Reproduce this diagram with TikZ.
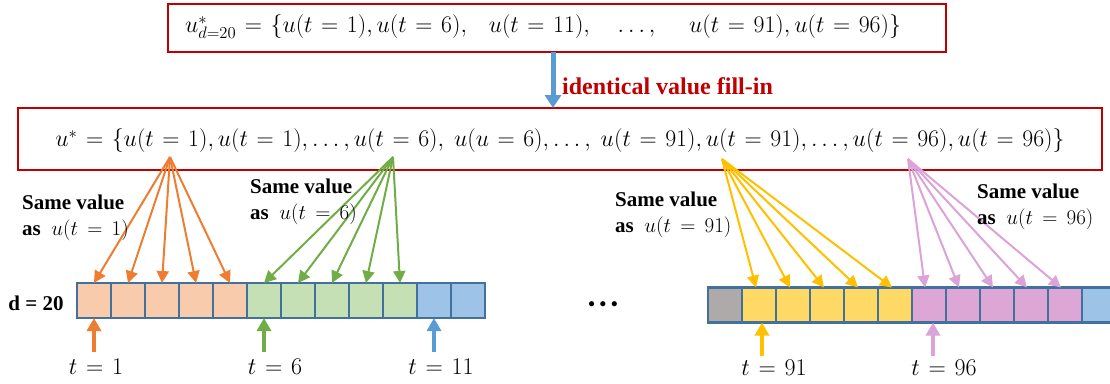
\RequirePackage{fix-cm}
\documentclass[tikz,border=0pt]{standalone}
\usepackage{fontspec}
\setmainfont{Liberation Serif}
\usetikzlibrary{arrows.meta}
\thickmuskip=8mu plus 2mu
\newmuskip\fmlskip
\fmlskip=6.5mu
\definecolor{boxred}{HTML}{C00000}
\definecolor{blueA}{HTML}{5B9BD5}
\definecolor{orangeA}{HTML}{ED7D31}
\definecolor{orangeF}{HTML}{F8CBAD}
\definecolor{greenA}{HTML}{70AD47}
\definecolor{greenF}{HTML}{C5E0B4}
\definecolor{blueF}{HTML}{9DC3E6}
\definecolor{cellB}{HTML}{41719C}
\definecolor{grayF}{HTML}{AEAAAA}
\definecolor{yellowA}{HTML}{FFC000}
\definecolor{yellowF}{HTML}{FFD966}
\definecolor{pinkA}{HTML}{DBA3D8}
\definecolor{pinkF}{HTML}{DDA7D5}
\begin{document}
\begin{tikzpicture}[x=1pt,y=-1pt,
  redbox/.style={draw=boxred,line width=2pt,inner sep=0pt,outer sep=0pt},
  cell/.style={draw=cellB,line width=2.2pt,minimum width=34pt,minimum height=35pt,inner sep=0pt,outer sep=0pt},
  fan/.style={line width=2pt,-{Triangle[length=12pt,width=12pt]}},
  uparr/.style={line width=4pt,-{Triangle[length=13pt,width=14pt]}},
  bigarr/.style={draw=blueA,line width=5pt,-{Triangle[length=13pt,width=16pt]}},
  lab/.style={font=\fontsize{21}{26}\selectfont\bfseries,align=left,anchor=west,inner sep=0pt},
  tlab/.style={font=\fontsize{24}{28}\selectfont,inner sep=0pt},
  formula/.style={font=\fontsize{23.8}{27}\selectfont}
]
\useasboundingbox (0,0) rectangle (1110,383);

% top box
\node[redbox,minimum width=778pt,minimum height=48pt] (top) at (557,28) {};
\node[formula] (topf) at (543,27) {$\thickmuskip=\fmlskip u^{*}_{d=20}=\{u(t=1),u(t=6),\ \ \ u(t=11),\ \ \ \ \ldots,\ \ \ \ \ u(t=91),u(t=96)\}$};

% second box
\node[redbox,minimum width=1084pt,minimum height=62pt] (fill) at (560,139) {};
\node[formula] (fillf) at (560,141) {$\thickmuskip=\fmlskip u^{*}=\{u(t=1),u(t=1),\ldots,u(t=6),\ u(u=6),\ldots,\ u(t=91),u(t=91),\ldots,u(t=96),u(t=96)\}$};

% fill-in arrow
\coordinate (bx) at (553,0);
\draw[bigarr] (bx |- top.south) -- (bx |- fill.north);
\node[font=\fontsize{24}{28}\selectfont\bfseries,text=boxred,anchor=west,inner sep=0pt] (fillin) at (562,86) {identical value fill-in};

% left row of cells
\foreach \i/\c in {1/orangeF,2/orangeF,3/orangeF,4/orangeF,5/orangeF,6/greenF,7/greenF,8/greenF,9/greenF,10/greenF,11/blueF,12/blueF}
  \node[cell,fill=\c] (c\i) at ({94+34*(\i-1)},300.5) {};
% right row of cells
\foreach \i/\c in {1/grayF,2/yellowF,3/yellowF,4/yellowF,5/yellowF,6/yellowF,7/pinkF,8/pinkF,9/pinkF,10/pinkF,11/pinkF,12/blueF}
  \node[cell,fill=\c] (r\i) at ({725+34*(\i-1)},305) {};

\node[font=\fontsize{21}{24}\selectfont\bfseries,inner sep=0pt] (dlab) at (36,303) {d = 20};
\node[font=\fontsize{19}{22}\selectfont\bfseries,inner sep=0pt] (dots) at (603,306) {\textbullet\ \textbullet\ \textbullet};

% fans
\coordinate (o1) at (170,157);
\coordinate (o2) at (393,157);
\coordinate (o3) at (722,159);
\coordinate (o4) at (908,159);
\foreach \i in {1,...,5} \draw[fan,orangeA] (o1) -- (c\i.north);
\foreach \i in {6,...,10} \draw[fan,greenA] (o2) -- (c\i.north);
\foreach \i in {2,...,6} \draw[fan,yellowA] (o3) -- ([xshift=-3pt]r\i.north);
\foreach \i in {7,...,11} \draw[fan,pinkA] (o4) -- ([xshift=-4pt]r\i.north);

% fan labels
\node[lab] (s1) at (22,218) {Same value\\as\ \ $u(t=1)$};
\node[lab] (s2) at (250,202) {Same value\\as\ \ $u(t=6)$};
\node[lab] (s3) at (615,215) {Same value\\as\ \ $u(t=91)$};
\node[lab] (s4) at (977,207) {Same value\\as\ \ $u(t=96)$};

% up arrows and t labels
\coordinate (u1) at (94,352);
\coordinate (u2) at (264,352);
\coordinate (u3) at (434,352);
\coordinate (u4) at (762,356);
\coordinate (u5) at (933,356);
\draw[uparr,orangeA] (u1) -- (u1 |- c1.south);
\draw[uparr,greenA] (u2) -- (u2 |- c6.south);
\draw[uparr,blueA] (u3) -- (u3 |- c11.south);
\draw[uparr,yellowA] (u4) -- (u4 |- r2.south);
\draw[uparr,pinkA] (u5) -- (u5 |- r7.south);
\node[tlab] (t1) at (96,367) {$\thickmuskip=\fmlskip t=1$};
\node[tlab] (t2) at (275,367) {$\thickmuskip=\fmlskip t=6$};
\node[tlab] (t3) at (441,367) {$\thickmuskip=\fmlskip t=11$};
\node[tlab] (t4) at (774,368) {$\thickmuskip=\fmlskip t=91$};
\node[tlab] (t5) at (944,368) {$\thickmuskip=\fmlskip t=96$};
\end{tikzpicture}
\end{document}
